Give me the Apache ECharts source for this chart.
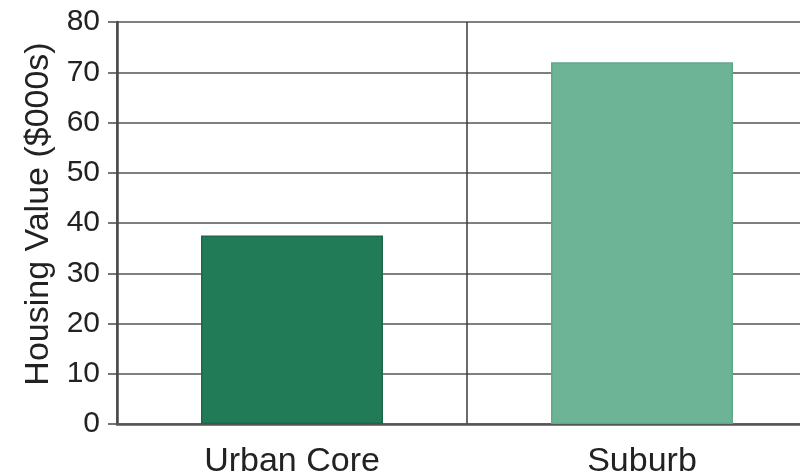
<!DOCTYPE html>
<html>
<head>
<meta charset="utf-8">
<script src="https://cdn.jsdelivr.net/npm/echarts@6/dist/echarts.min.js"></script>
<style>
  html, body { margin: 0; padding: 0; background: #ffffff; }
  #chart { width: 800px; height: 475px; }
</style>
</head>
<body>
<div id="chart"></div>
<script>
// Median housing value by area type
const categories = ['Urban Core', 'Suburb'];
const housingValues = [37.5, 72];
const barColors = ['#217b57', '#6db396'];
const barBorders = ['#1a6a4a', '#62a88a'];

const chart = echarts.init(document.getElementById('chart'), null, { renderer: 'canvas' });

const font = 'Liberation Sans, Arial, Helvetica, sans-serif';

chart.setOption({
  backgroundColor: '#ffffff',
  animation: false,
  // the plot runs past the right edge of the canvas
  grid: { left: 117, top: 22, right: -17, bottom: 51, outerBoundsMode: 'none', containLabel: false },
  xAxis: {
    type: 'category',
    data: categories,
    boundaryGap: true,
    axisTick: { show: false },
    axisLine: { show: true, lineStyle: { color: '#555555', width: 2.5 } },
    axisLabel: { color: '#222222', fontSize: 34, fontFamily: font, margin: 21 },
    splitLine: { show: true, lineStyle: { color: '#3a3a3a', width: 1.5 } }
  },
  yAxis: {
    type: 'value',
    min: 0,
    max: 80,
    interval: 10,
    name: 'Housing Value ($000s)',
    nameLocation: 'middle',
    nameGap: 59,
    nameTextStyle: { color: '#222222', fontSize: 34, fontFamily: font, padding: [0, 0, 0, 18] },
    axisLine: { show: true, lineStyle: { color: '#4a4a4a', width: 2.5 } },
    axisTick: { show: true, length: 9, lineStyle: { color: '#4a4a4a', width: 1.5 } },
    axisLabel: { color: '#222222', fontSize: 30, fontFamily: font, margin: 17 },
    splitLine: { show: true, lineStyle: { color: '#555555', width: 1.5 } }
  },
  series: [{
    type: 'bar',
    barWidth: '52%',
    data: housingValues.map((v, i) => ({
      value: v,
      itemStyle: { color: barColors[i], borderColor: barBorders[i], borderWidth: 1.5 }
    }))
  }]
});
</script>
</body>
</html>
